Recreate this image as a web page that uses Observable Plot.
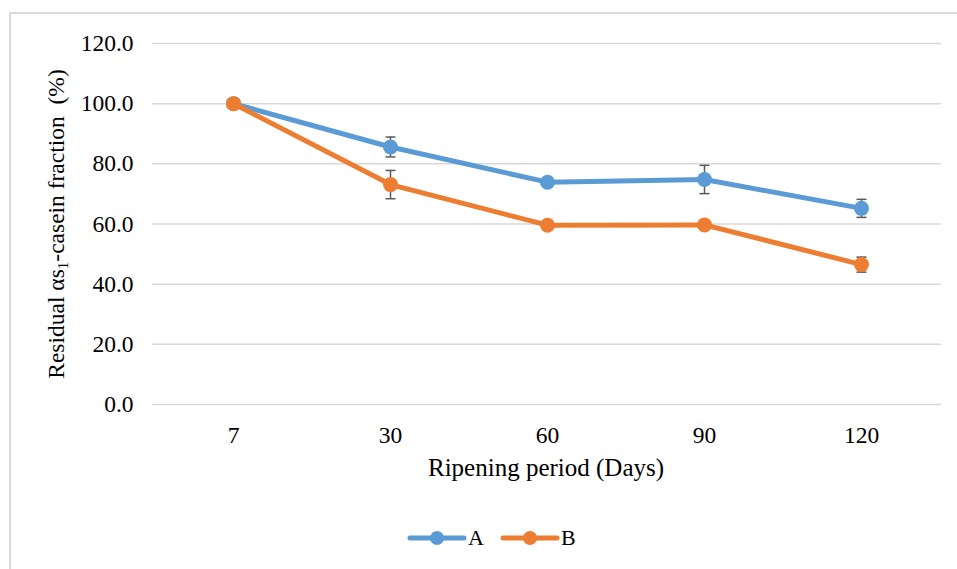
<!DOCTYPE html>
<html>
<head>
<meta charset="utf-8">
<script src="https://cdn.jsdelivr.net/npm/d3@7"></script>
<script src="https://cdn.jsdelivr.net/npm/@observablehq/plot@0.6"></script>
<style>
  html, body { margin: 0; padding: 0; background: #fff; }
  #wrap { position: relative; width: 957px; height: 569px; overflow: hidden; font-family: "Liberation Serif", "Times New Roman", serif; color: #000; }
  #frame { position: absolute; left: 9px; top: 12px; width: 960px; height: 600px; border-top: 2px solid #d9d9d9; border-left: 2px solid #d9d9d9; box-sizing: border-box; }
  #chart { position: absolute; left: 0; top: 0; }
  #chart svg text { font-family: "Liberation Serif", "Times New Roman", serif; }
  #ytitle { position: absolute; left: 56px; top: 224px; transform: translate(-50%, -50%) rotate(-90deg); white-space: nowrap; font-size: 23.5px; }
  #ytitle sub { font-size: 15px; vertical-align: -4px; line-height: 0; }
  #xtitle { position: absolute; left: 546px; top: 454px; transform: translateX(-50%); white-space: nowrap; font-size: 25px; }
  #legend { position: absolute; left: 0; top: 522px; width: 957px; height: 32px; }
</style>
</head>
<body>
<div id="wrap">
  <div id="frame"></div>
  <div id="chart"></div>
  <div id="ytitle">Residual αs<sub>1</sub>-casein fraction&nbsp;&nbsp;(%)</div>
  <div id="xtitle">Ripening period (Days)</div>
  <div id="legend"></div>
</div>
<script>
const days = ["7", "30", "60", "90", "120"];
const seriesA = [100.0, 85.6, 73.9, 74.8, 65.2];
const errA    = [0, 3.3, 0, 4.7, 3.0];
const seriesB = [100.0, 73.1, 59.6, 59.7, 46.5];
const errB    = [0, 4.7, 0, 0, 2.5];
const seriesNames = ["A", "B"];
const colors = ["#5B9BD5", "#ED7D31"];
const yTicks = [0, 20, 40, 60, 80, 100, 120];
const serif = "Liberation Serif";

const rows = [];
[seriesA, seriesB].forEach((vals, s) => {
  const errs = s === 0 ? errA : errB;
  vals.forEach((v, i) => rows.push({series: seriesNames[s], day: days[i], value: v, err: errs[i]}));
});
const withErr = rows.filter(d => d.err > 0);

// horizontal cap symbol for error bars
const capSymbol = {draw(context) { context.moveTo(-5, 0); context.lineTo(5, 0); }};

const marks = [
  Plot.gridY(yTicks, {stroke: "#d9d9d9", strokeOpacity: 1, strokeWidth: 1.5}),
  Plot.axisY(yTicks, {tickSize: 0, tickPadding: 19, fontSize: 23.5, fontFamily: serif, fill: "#000", tickFormat: d3.format(".1f"), label: null}),
  Plot.axisX(days, {tickSize: 0, tickPadding: 22, fontSize: 23.5, fontFamily: serif, fill: "#000", label: null})
];
seriesNames.forEach((name, s) => {
  const data = rows.filter(d => d.series === name);
  const ed = withErr.filter(d => d.series === name);
  marks.push(
    Plot.line(data, {x: "day", y: "value", stroke: colors[s], strokeWidth: 5, strokeLinejoin: "round", strokeLinecap: "round"}),
    Plot.ruleX(ed, {x: "day", y1: d => d.value - d.err, y2: d => d.value + d.err, stroke: "#595959", strokeWidth: 1.5}),
    Plot.dot(ed, {x: "day", y: d => d.value - d.err, symbol: capSymbol, stroke: "#595959", strokeWidth: 1.5, fill: "none"}),
    Plot.dot(ed, {x: "day", y: d => d.value + d.err, symbol: capSymbol, stroke: "#595959", strokeWidth: 1.5, fill: "none"}),
    Plot.dot(data, {x: "day", y: "value", fill: colors[s], r: 7.5, stroke: null})
  );
});

const chart = Plot.plot({
  width: 957,
  height: 569,
  marginLeft: 152,
  marginRight: 16,
  marginTop: 43,
  marginBottom: 165,
  style: {fontFamily: "'Liberation Serif', serif", color: "#000", background: "transparent", overflow: "visible"},
  x: {type: "point", domain: days, padding: 0.5, axis: null},
  y: {domain: [0, 120], axis: null},
  marks
});
document.getElementById("chart").appendChild(chart);

// legend
const leg = d3.select("#legend").append("svg").attr("width", 957).attr("height", 32);
const items = [{x: 410, label: "A"}, {x: 503, label: "B"}];
items.forEach((it, i) => {
  const g = leg.append("g");
  g.append("line").attr("x1", it.x).attr("x2", it.x + 54).attr("y1", 16).attr("y2", 16)
    .attr("stroke", colors[i]).attr("stroke-width", 5).attr("stroke-linecap", "round");
  g.append("circle").attr("cx", it.x + 27).attr("cy", 16).attr("r", 7).attr("fill", colors[i]);
  g.append("text").attr("x", it.x + 58).attr("y", 23).attr("font-size", 22)
    .attr("font-family", "'Liberation Serif', 'Times New Roman', serif").text(seriesNames[i]);
});
</script>
</body>
</html>
